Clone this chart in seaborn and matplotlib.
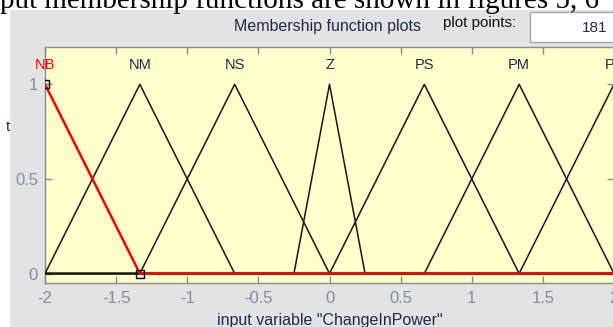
import numpy as np
import pandas as pd
import matplotlib
matplotlib.use("Agg")
import matplotlib.pyplot as plt
import seaborn as sns
from matplotlib.patches import Rectangle

# Input variable "ChangeInPower": triangular membership functions [a, b, c]
mf_names = ["NB", "NM", "NS", "Z", "PS", "PM", "PB"]
mf_a = [-8/3, -2.0, -4/3, -0.25, 0.0, 2/3, 4/3]
mf_b = [-2.0, -4/3, -2/3, 0.0, 2/3, 4/3, 2.0]
mf_c = [-4/3, -2/3, 0.0, 0.25, 4/3, 2.0, 8/3]
selected_mf = "NB"

x_range = [-2.0, 2.0]
x_ticks = [-2, -1.5, -1, -0.5, 0, 0.5, 1, 1.5, 2]
x_tick_labels = ["-2", "-1.5", "-1", "-0.5", "0", "0.5", "1", "1.5", "2"]
y_ticks = [0, 0.5, 1]
y_tick_labels = ["0", "0.5", "1"]
plot_points = 181

sns.set_style("white")
plt.rcParams["font.family"] = ["Liberation Sans", "DejaVu Sans"]

W, H = 613, 327
fig = plt.figure(figsize=(W / 100, H / 100), dpi=100)
fig.patch.set_facecolor("white")

# GUI panel behind the plot
fig.patches.append(Rectangle((10 / W, 0), 1, 1 - 10 / H, transform=fig.transFigure,
                             facecolor="#e3e3e3", edgecolor="none", zorder=-5))

# Document text above the panel
fig.text(0 / W, 1 - 7.5 / H, "put membership functions are shown in figures 5, 6",
         family=["Liberation Serif"], fontsize=21, color="black",
         ha="left", va="baseline")

# Header of the editor
fig.text(327 / W, 1 - 26 / H, "Membership function plots", fontsize=11.5,
         color="#1e2a4c", ha="center", va="center")
fig.text(480 / W, 1 - 23 / H, "plot points:", fontsize=11, color="#111111",
         ha="center", va="center")
fig.patches.append(Rectangle((530 / W, 1 - 42 / H), 84 / W, 30 / H,
                             transform=fig.transFigure, facecolor="white",
                             edgecolor="#a8a8a8", linewidth=1.0, zorder=1))
fig.text(607 / W, 1 - 28 / H, str(plot_points), fontsize=11, color="#1e2a4c",
         ha="right", va="center")
fig.text(8 / W, 1 - 127 / H, "t", fontsize=11, color="#1e2a4c",
         ha="center", va="center")

ax = fig.add_axes([45 / W, 44 / H, 569 / W, (283 - 46.5) / H])
ax.set_facecolor("#ffffcc")


def mf_polyline(a, b, c):
    pts = sorted(set([x_range[0], x_range[1]] +
                     [v for v in (a, b, c) if x_range[0] <= v <= x_range[1]]))
    xs = np.array(pts)
    ys = np.interp(xs, [a, b, c], [0.0, 1.0, 0.0], left=0.0, right=0.0)
    return xs, ys


rows = []
for name, a, b, c in zip(mf_names, mf_a, mf_b, mf_c):
    xs, ys = mf_polyline(a, b, c)
    for i, (xv, yv) in enumerate(zip(xs, ys)):
        rows.append({"mf": name, "order": i, "x": xv, "y": yv})
df = pd.DataFrame(rows)

for name in mf_names:
    if name == selected_mf:
        continue
    sns.lineplot(data=df[df.mf == name], x="x", y="y", sort=False,
                 estimator=None, color="#151515", linewidth=1.1, ax=ax, zorder=3)

sel = df[df.mf == selected_mf]
sns.lineplot(data=sel, x="x", y="y", sort=False, estimator=None,
             color="#ff0000", linewidth=1.8, ax=ax, zorder=4)

# Vertex handles of the selected function
i_sel = mf_names.index(selected_mf)
ax.plot([mf_b[i_sel], mf_c[i_sel]], [1, 0], linestyle="none", marker="s",
        markersize=6, markerfacecolor="none", markeredgecolor="black",
        markeredgewidth=1.0, zorder=5)

# Function names above each peak
for name, b in zip(mf_names, mf_b):
    ax.text(b, 1.1, name, ha="center", va="center", fontsize=10.5,
            color="#ff0000" if name == selected_mf else "#1e2a4c",
            zorder=6, clip_on=False)

ax.set_xlim(*x_range)
ax.set_ylim(-0.05, 1.2)
ax.set_xticks(x_ticks)
ax.set_xticklabels(x_tick_labels)
ax.set_yticks(y_ticks)
ax.set_yticklabels(y_tick_labels)
ax.set_xlabel('input variable "ChangeInPower"', fontsize=11.5, color="#1e2a4c",
              labelpad=5)
ax.set_ylabel("")

tick_color = "#808ca0"
ax.tick_params(axis="both", which="both", direction="in", length=5, width=1,
               color="#8a8a8a", labelcolor=tick_color, labelsize=12,
               top=True, right=True, bottom=True, left=True)
ax.tick_params(axis="x", pad=6)
ax.tick_params(axis="y", pad=5)
for side in ax.spines.values():
    side.set_visible(True)
    side.set_color("#8a8a8a")
    side.set_linewidth(1.0)

fig.savefig("out.png", dpi=100, facecolor=fig.get_facecolor())
